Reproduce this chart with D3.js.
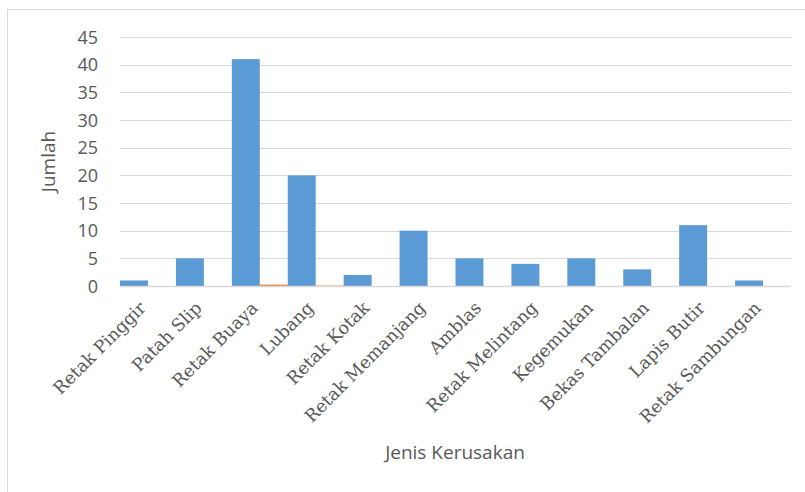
<!DOCTYPE html>
<html>
<head>
<meta charset="utf-8">
<script src="https://cdn.jsdelivr.net/npm/d3@7"></script>
<style>
  body { margin: 0; background: #fff; }
  svg { display: block; }
</style>
</head>
<body>
<script>
// data
var categories = ['Retak Pinggir', 'Patah Slip', 'Retak Buaya', 'Lubang', 'Retak Kotak',
    'Retak Memanjang', 'Amblas', 'Retak Melintang', 'Kegemukan', 'Bekas Tambalan',
    'Lapis Butir', 'Retak Sambungan'];
var jumlah = [1, 5, 41, 20, 2, 10, 5, 4, 5, 3, 11, 1];
var seri2 = [0, 0, 0.25, 0.08, 0, 0, 0, 0, 0, 0, 0, 0];
var yTicks = [0, 5, 10, 15, 20, 25, 30, 35, 40, 45];

var width = 805, height = 492;
var plot = { left: 120, right: 791, top: 37, bottom: 286 };

var svg = d3.select('body').append('svg')
    .attr('width', width)
    .attr('height', height);

// chart border
svg.append('rect')
    .attr('x', 7.5).attr('y', 9.5)
    .attr('width', 820).attr('height', 500)
    .attr('fill', 'none')
    .attr('stroke', '#d9d9d9');

// scales
var xScale = d3.scaleBand().domain(categories).range([plot.left, plot.right]).padding(0);
var yScale = d3.scaleLinear().domain([0, 45]).range([plot.bottom, plot.top]);

// gridlines
svg.append('g').selectAll('line')
    .data(yTicks.filter(function(d) { return d > 0; }))
    .enter().append('line')
    .attr('x1', plot.left).attr('x2', plot.right)
    .attr('y1', function(d) { return Math.round(yScale(d)) + 0.5; })
    .attr('y2', function(d) { return Math.round(yScale(d)) + 0.5; })
    .attr('stroke', '#d9d9d9').attr('stroke-width', 1);

// y tick labels
svg.append('g').selectAll('text')
    .data(yTicks)
    .enter().append('text')
    .attr('x', 98)
    .attr('y', function(d) { return yScale(d) + 6.5; })
    .attr('text-anchor', 'end')
    .attr('font-family', 'Open Sans, sans-serif')
    .attr('font-size', 18)
    .attr('fill', '#595959')
    .text(function(d) { return d; });

// bars - two series side by side in each band
var half = xScale.bandwidth() / 2;
svg.append('g').selectAll('rect')
    .data(jumlah)
    .enter().append('rect')
    .attr('x', function(d, i) { return xScale(categories[i]); })
    .attr('y', function(d) { return yScale(d); })
    .attr('width', half)
    .attr('height', function(d) { return yScale(0) - yScale(d); })
    .attr('fill', '#5b9bd5');

svg.append('g').selectAll('rect')
    .data(seri2)
    .enter().append('rect')
    .attr('x', function(d, i) { return xScale(categories[i]) + half; })
    .attr('y', function(d) { return yScale(d); })
    .attr('width', half)
    .attr('height', function(d) { return yScale(0) - yScale(d); })
    .attr('fill', '#ed7d31');

// baseline
svg.append('line')
    .attr('x1', plot.left).attr('x2', plot.right)
    .attr('y1', plot.bottom + 0.5).attr('y2', plot.bottom + 0.5)
    .attr('stroke', '#d9d9d9').attr('stroke-width', 1.5);

// x labels rotated
svg.append('g').selectAll('text')
    .data(categories)
    .enter().append('text')
    .attr('transform', function(d) {
        return 'translate(' + (xScale(d) + half - 1) + ',' + 309 + ') rotate(-45)';
    })
    .attr('text-anchor', 'end')
    .attr('font-family', 'DejaVu Serif, serif')
    .attr('font-size', 17.5)
    .attr('fill', '#595959')
    .text(function(d) { return d; });

// axis titles
svg.append('text')
    .attr('transform', 'translate(55,' + ((plot.top + plot.bottom) / 2) + ') rotate(-90)')
    .attr('text-anchor', 'middle')
    .attr('font-family', 'Open Sans, sans-serif')
    .attr('font-size', 19)
    .attr('fill', '#595959')
    .text('Jumlah');

svg.append('text')
    .attr('x', 455).attr('y', 459)
    .attr('text-anchor', 'middle')
    .attr('font-family', 'Open Sans, sans-serif')
    .attr('font-size', 19)
    .attr('fill', '#595959')
    .text('Jenis Kerusakan');
</script>
</body>
</html>
